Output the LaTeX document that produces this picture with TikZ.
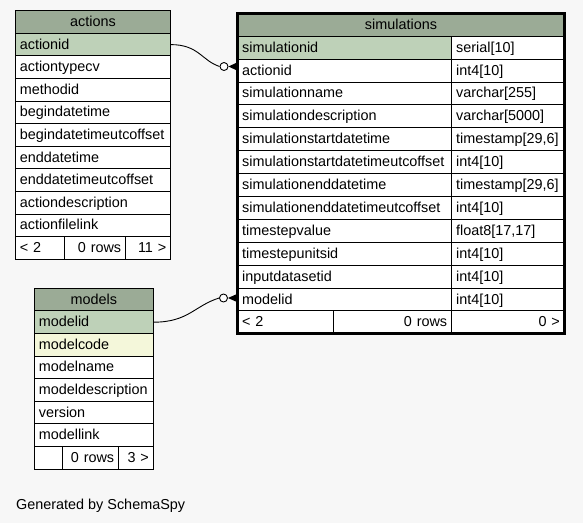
\documentclass[tikz,border=0pt]{standalone}
\usepackage{fontspec}
\setmainfont{Liberation Sans}
\usetikzlibrary{calc}
\definecolor{hdrbg}{HTML}{9BAB96}
\definecolor{pkbg}{HTML}{BED1B8}
\definecolor{idxbg}{HTML}{F4F7DA}
\definecolor{pagebg}{HTML}{F7F7F7}
\tikzset{
  cell/.style={draw, fill=white, anchor=north west, inner xsep=4.5pt, inner ysep=0pt,
    outer sep=0pt, text height=10pt, text depth=1pt, align=left,
    font=\fontsize{14.4}{16}\selectfont, line width=0.9pt},
  hdr/.style={cell, fill=hdrbg, align=center},
  pk/.style={fill=pkbg},
  rcell/.style={cell, align=right},
  odot/.style={circle, draw, fill=white, inner sep=0pt, minimum size=8pt, line width=0.9pt},
  conn/.style={line width=0.9pt}
}
\begin{document}
\begin{tikzpicture}[x=1pt,y=-1pt]
\useasboundingbox[fill=pagebg] (0,0) rectangle (583,523);

% actions
\begin{scope}[every node/.append style={minimum height=22.6pt}]
  \node[hdr, text width=146.4pt] (a-hdr) at (15.3,10.7) {actions};
  \node[cell, pk, text width=146.4pt] (a-actionid) at (15.3,33.3) {actionid};
  \foreach \f [count=\i] in {actiontypecv,methodid,begindatetime,begindatetimeutcoffset,
      enddatetime,enddatetimeutcoffset,actiondescription,actionfilelink}
    \node[cell, text width=146.4pt] (a-\f) at (15.3,33.3+\i*22.6) {\f};
  \node[cell, text width=40pt] (a-foot1) at (15.3,236.7) {< 2};
  \node[rcell, text width=52.4pt] (a-foot2) at (64.3,236.7) {0 rows};
  \node[rcell, text width=36pt] (a-foot3) at (125.7,236.7) {11 >};
\end{scope}

% simulations
\begin{scope}[every node/.append style={minimum height=22.9pt}]
  \node[hdr, text width=317.6pt] (s-hdr) at (237.7,13.3) {simulations};
  \node[cell, pk, text width=205pt] (s-simulationid) at (237.7,36.2) {simulationid};
  \node[cell, text width=103.6pt] (s-simulationid-t) at (451.7,36.2) {serial[10]};
  \foreach \f/\t [count=\i] in {actionid/int4[10],simulationname/varchar[255],
      simulationdescription/varchar[5000],simulationstartdatetime/{timestamp[29,6]},
      simulationstartdatetimeutcoffset/int4[10],simulationenddatetime/{timestamp[29,6]},
      simulationenddatetimeutcoffset/int4[10],timestepvalue/{float8[17,17]},
      timestepunitsid/int4[10],inputdatasetid/int4[10],modelid/int4[10]} {
    \node[cell, text width=205pt] (s-\f) at (237.7,36.2+\i*22.9) {\f};
    \node[cell, text width=103.6pt] (s-\f-t) at (451.7,36.2+\i*22.9) {\t};
  }
  \node[cell, text width=86.6pt] (s-foot1) at (237.7,310.9) {< 2};
  \node[rcell, text width=109.4pt] (s-foot2) at (333.3,310.9) {0 rows};
  \node[rcell, text width=103.6pt] (s-foot3) at (451.7,310.9) {0 >};
\end{scope}
\draw[line width=3pt] (s-hdr.north west) rectangle (s-foot3.south east);

% models
\begin{scope}[every node/.append style={minimum height=22.6pt}]
  \node[hdr, text width=110pt] (m-hdr) at (34.3,288.3) {models};
  \node[cell, pk, text width=110pt] (m-modelid) at (34.3,310.9) {modelid};
  \node[cell, fill=idxbg, text width=110pt] (m-modelcode) at (34.3,333.5) {modelcode};
  \foreach \f [count=\i] in {modelname,modeldescription,version,modellink}
    \node[cell, text width=110pt] (m-\f) at (34.3,333.5+\i*22.6) {\f};
  \node[cell, text width=19.4pt] (m-foot1) at (34.3,446.5) {};
  \node[rcell, text width=47pt] (m-foot2) at (62.7,446.5) {0 rows};
  \node[rcell, text width=25.6pt] (m-foot3) at (118.7,446.5) {3 >};
\end{scope}

% relations
\node[odot] (ca) at (224,66.5) {};
\draw[conn] (a-actionid.east) .. controls +(28,0) and +(-18,-6) .. (ca.west);
\fill ($(ca -| s-actionid.west)+(0,-4.3)$) -- (ca.east) -- ($(ca -| s-actionid.west)+(0,4.3)$) -- cycle;

\node[odot] (cm) at (223.5,298) {};
\draw[conn] (m-modelid.east) .. controls +(35,0) and +(-25,8) .. (cm.west);
\fill ($(cm -| s-modelid.west)+(0,-4.3)$) -- (cm.east) -- ($(cm -| s-modelid.west)+(0,4.3)$) -- cycle;

\node[anchor=base west, inner sep=0pt, font=\fontsize{14.4}{16}\selectfont] (gen) at (16,509.3) {Generated by SchemaSpy};
\end{tikzpicture}
\end{document}
